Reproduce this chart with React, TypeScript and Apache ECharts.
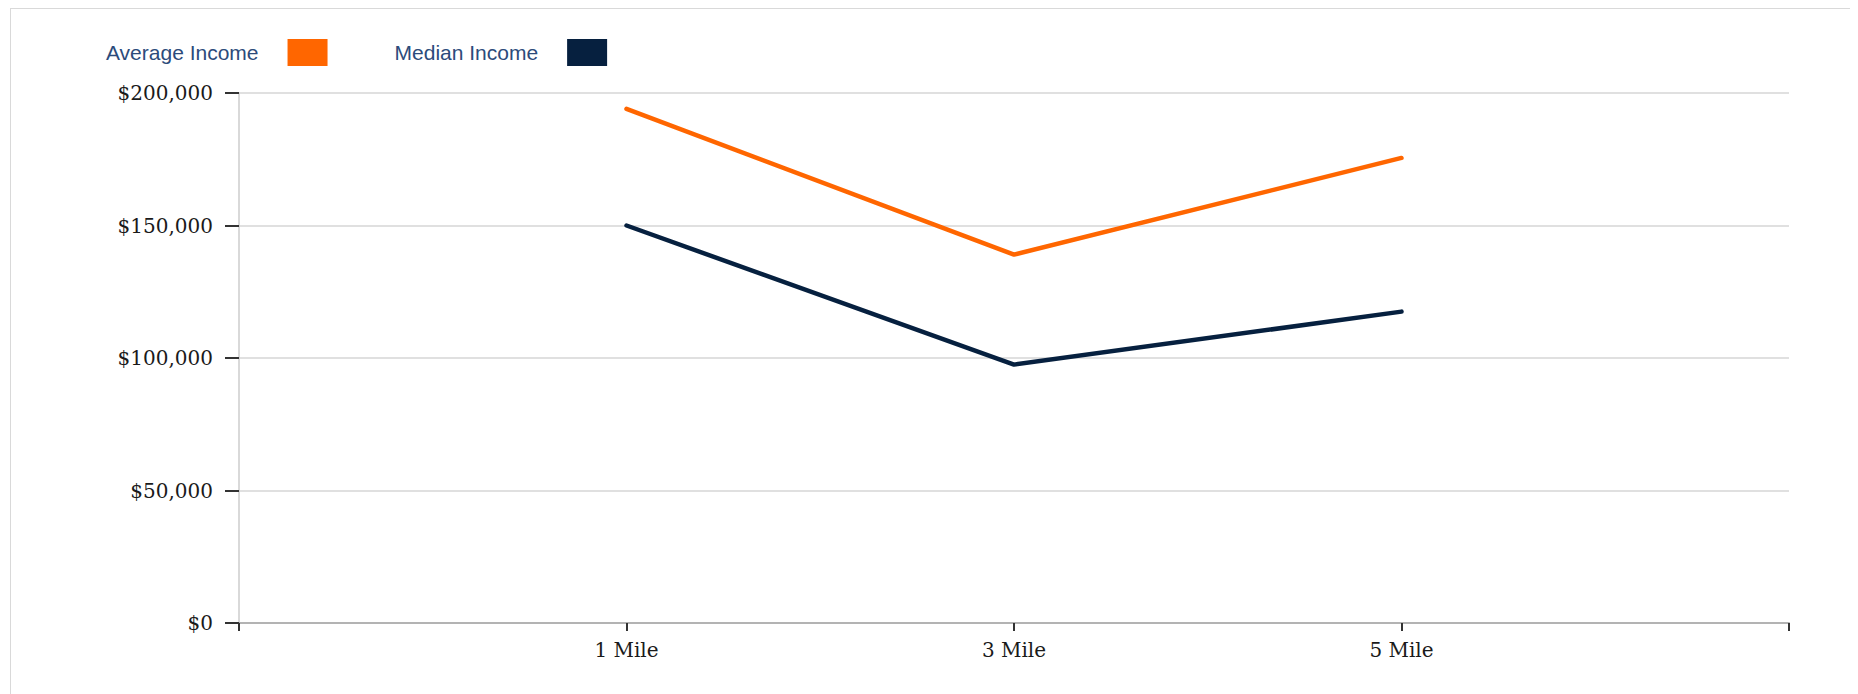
import React, { useEffect, useRef } from "react";
import * as echarts from "echarts";

const categories = ["1 Mile", "3 Mile", "5 Mile"];
const averageIncome = [194000, 139000, 175500];
const medianIncome = [150000, 97500, 117500];
const seriesNames = ["Average Income", "Median Income"];
const seriesColors = ["#ff6600", "#06203f"];
const yTicks = [0, 50000, 100000, 150000, 200000];

export default function App() {
  const ref = useRef<HTMLDivElement>(null);

  useEffect(() => {
    if (!ref.current) return;
    const chart = echarts.init(ref.current, undefined, { renderer: "svg" });
    const toPoints = (arr: number[]) => arr.map((v, i) => [i + 1, v]);
    chart.setOption({
      animation: false,
      legend: {
        left: 90,
        top: 25,
        align: "right",
        itemWidth: 40,
        itemHeight: 27,
        itemGap: 67,
        icon: "rect",
        data: seriesNames,
        textStyle: {
          fontFamily: "Liberation Sans, Arial, sans-serif",
          fontSize: 21,
          color: "#2c4b7b",
          padding: [0, 24, 0, 0],
        },
      },
      grid: { left: 228, right: 66, top: 84, bottom: 71, containLabel: false },
      xAxis: {
        type: "value",
        min: 0,
        max: categories.length + 1,
        interval: 1,
        axisLine: { show: true, lineStyle: { color: "#b3b3b3", width: 2 } },
        axisTick: { show: true, length: 8, lineStyle: { color: "#333", width: 2 } },
        splitLine: { show: false },
        axisLabel: {
          margin: 17,
          color: "#1a1a1a",
          fontFamily: "DejaVu Serif, Georgia, serif",
          fontSize: 20,
          formatter: (v: number) => categories[v - 1] ?? "",
        },
      },
      yAxis: {
        type: "value",
        min: yTicks[0],
        max: yTicks[yTicks.length - 1],
        interval: yTicks[1] - yTicks[0],
        axisLine: { show: true, lineStyle: { color: "#cccccc", width: 1.5 } },
        axisTick: { show: true, inside: false, length: 14, lineStyle: { color: "#333", width: 2 } },
        splitLine: { show: true, lineStyle: { color: "#d6d6d6", width: 1.5 } },
        axisLabel: {
          margin: 26,
          color: "#1a1a1a",
          fontFamily: "DejaVu Serif, Georgia, serif",
          fontSize: 20,
          formatter: (v: number) => "$" + v.toLocaleString("en-US"),
        },
      },
      series: [
        {
          name: seriesNames[0],
          type: "line",
          data: toPoints(averageIncome),
          showSymbol: false,
          symbol: "none",
          itemStyle: { color: seriesColors[0] },
          lineStyle: { color: seriesColors[0], width: 4.5, cap: "round" },
        },
        {
          name: seriesNames[1],
          type: "line",
          data: toPoints(medianIncome),
          showSymbol: false,
          symbol: "none",
          itemStyle: { color: seriesColors[1] },
          lineStyle: { color: seriesColors[1], width: 4.5, cap: "round" },
        },
      ],
    });
    return () => chart.dispose();
  }, []);

  return (
    <div
      style={{
        marginLeft: 2,
        width: 1844,
        height: 685,
        borderTop: "1px solid #d9d9d9",
        borderLeft: "1px solid #d9d9d9",
        borderRight: "1px solid #d9d9d9",
        position: "relative",
      }}
    >
      <div ref={ref} style={{ width: 1844, height: 685 }} />
    </div>
  );
}
